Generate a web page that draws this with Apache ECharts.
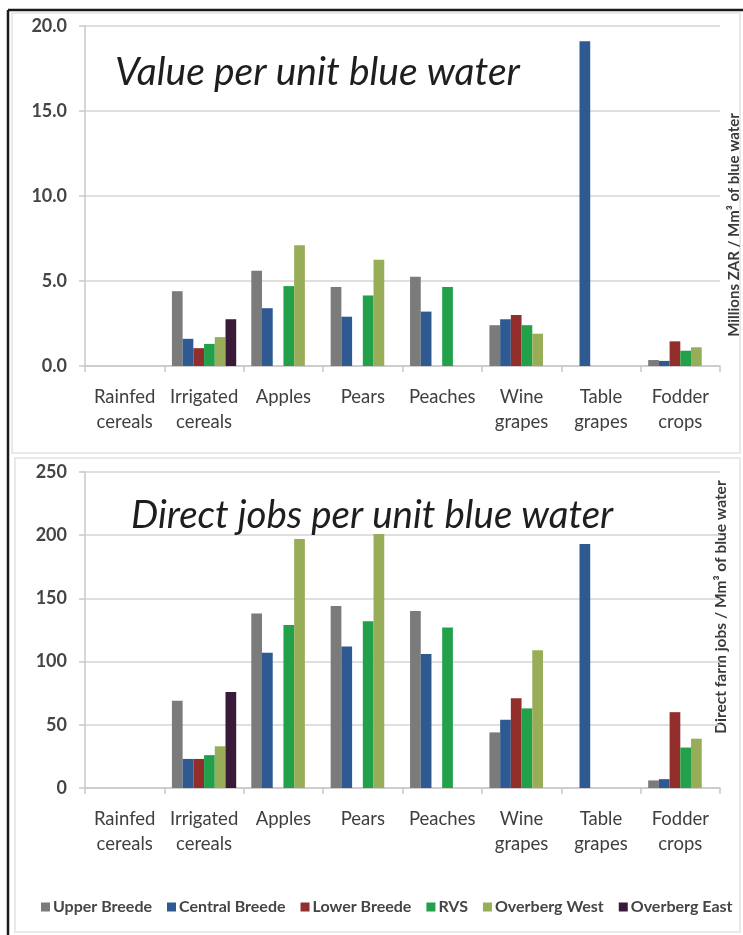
<!DOCTYPE html>
<html>
<head>
<meta charset="utf-8">
<title>Value and direct jobs per unit blue water</title>
<script src="https://cdn.jsdelivr.net/npm/echarts@6/dist/echarts.min.js"></script>
<style>
  html, body { margin: 0; padding: 0; background: #ffffff; }
  #chart { width: 743px; height: 935px; }
</style>
</head>
<body>
<div id="chart"></div>
<script>
// Crop categories (two-line axis labels)
const categories = [
  'Rainfed\ncereals', 'Irrigated\ncereals', 'Apples', 'Pears',
  'Peaches', 'Wine\ngrapes', 'Table\ngrapes', 'Fodder\ncrops'
];

// Regions (series) and their colours
const regions = ['Upper Breede', 'Central Breede', 'Lower Breede', 'RVS', 'Overberg West', 'Overberg East'];
const regionColors = ['#7b7b7b', '#2f5a91', '#922f2d', '#22a14a', '#98ad57', '#3b1a39'];

// Value per unit blue water (Millions ZAR / Mm3), one array per region
const valueUpperBreede   = [null, 4.4, 5.6, 4.65, 5.25, 2.4, null, 0.35];
const valueCentralBreede = [null, 1.6, 3.4, 2.9, 3.2, 2.75, 19.1, 0.3];
const valueLowerBreede   = [null, 1.05, null, null, null, 3.0, null, 1.45];
const valueRVS           = [null, 1.3, 4.7, 4.15, 4.65, 2.4, null, 0.9];
const valueOverbergWest  = [null, 1.7, 7.1, 6.25, null, 1.9, null, 1.1];
const valueOverbergEast  = [null, 2.75, null, null, null, null, null, null];

// Direct farm jobs per unit blue water (jobs / Mm3), one array per region
const jobsUpperBreede   = [null, 69, 138, 144, 140, 44, null, 6];
const jobsCentralBreede = [null, 23, 107, 112, 106, 54, 193, 7];
const jobsLowerBreede   = [null, 23, null, null, null, 71, null, 60];
const jobsRVS           = [null, 26, 129, 132, 127, 63, null, 32];
const jobsOverbergWest  = [null, 33, 197, 201, null, 109, null, 39];
const jobsOverbergEast  = [null, 76, null, null, null, null, null, null];

// Axis tick values
const valueTicks = [0, 5, 10, 15, 20];
const jobsTicks = [0, 50, 100, 150, 200, 250];

const valueSeries = [valueUpperBreede, valueCentralBreede, valueLowerBreede, valueRVS, valueOverbergWest, valueOverbergEast];
const jobsSeries = [jobsUpperBreede, jobsCentralBreede, jobsLowerBreede, jobsRVS, jobsOverbergWest, jobsOverbergEast];

const FONT = 'Lato, "Open Sans", sans-serif';
const TEXT_COLOR = '#3f3f3f';
const GRID_COLOR = '#d4d4d4';

function makeXAxis(gridIndex) {
  return {
    type: 'category',
    gridIndex: gridIndex,
    data: categories,
    axisLine: { show: true, lineStyle: { color: '#c8c8c8', width: 1.5 } },
    axisTick: { show: true, length: 6, lineStyle: { color: '#c8c8c8', width: 1.5 } },
    axisLabel: {
      interval: 0,
      margin: 19,
      fontFamily: FONT,
      fontSize: 18.5,
      lineHeight: 25,
      color: TEXT_COLOR
    }
  };
}

function makeYAxis(gridIndex, ticks, digits) {
  return {
    type: 'value',
    gridIndex: gridIndex,
    min: ticks[0],
    max: ticks[ticks.length - 1],
    interval: ticks[1] - ticks[0],
    axisLine: { show: true, lineStyle: { color: '#c8c8c8', width: 1.5 } },
    axisTick: { show: true, length: 6, lineStyle: { color: '#c8c8c8', width: 1.5 } },
    splitLine: { show: true, lineStyle: { color: GRID_COLOR, width: 1.5 } },
    axisLabel: {
      margin: 18,
      fontFamily: FONT,
      fontSize: 18,
      fontWeight: 'bold',
      color: '#454545',
      formatter: function (v) { return v.toFixed(digits); }
    }
  };
}

const series = [];
regions.forEach(function (name, i) {
  series.push({
    name: name,
    type: 'bar',
    xAxisIndex: 0,
    yAxisIndex: 0,
    data: valueSeries[i],
    itemStyle: { color: regionColors[i] },
    barGap: '0%',
    barCategoryGap: '19%'
  });
});
regions.forEach(function (name, i) {
  series.push({
    name: name,
    type: 'bar',
    xAxisIndex: 1,
    yAxisIndex: 1,
    data: jobsSeries[i],
    itemStyle: { color: regionColors[i] },
    barGap: '0%',
    barCategoryGap: '19%'
  });
});

const option = {
  backgroundColor: '#ffffff',
  animation: false,
  textStyle: { fontFamily: FONT },
  title: [
    {
      text: 'Value per unit blue water',
      left: 110,
      top: 48,
      textStyle: { fontFamily: FONT, fontStyle: 'italic', fontWeight: 'normal', fontSize: 39, color: '#1e1e1e' }
    },
    {
      text: 'Direct jobs per unit blue water',
      left: 126,
      top: 491,
      textStyle: { fontFamily: FONT, fontStyle: 'italic', fontWeight: 'normal', fontSize: 38.5, color: '#1e1e1e' }
    }
  ],
  legend: {
    data: regions,
    left: 36,
    top: 894,
    icon: 'rect',
    itemWidth: 9,
    itemHeight: 9,
    itemGap: 15,
    textStyle: { fontFamily: FONT, fontSize: 16, fontWeight: 'bold', color: '#454545', padding: [0, 0, 0, -2] }
  },
  grid: [
    { left: 85, right: 23, top: 26, height: 340 },
    { left: 85, right: 23, top: 472, height: 316 }
  ],
  xAxis: [makeXAxis(0), makeXAxis(1)],
  yAxis: [makeYAxis(0, valueTicks, 1), makeYAxis(1, jobsTicks, 0)],
  series: series,
  graphic: [
    // light chart-area borders
    { type: 'rect', silent: true, z: -1, shape: { x: 12, y: 13, width: 728, height: 440 },
      style: { fill: 'none', stroke: '#e2e2e2', lineWidth: 1.5 } },
    { type: 'rect', silent: true, z: -1, shape: { x: 15, y: 458, width: 725, height: 474 },
      style: { fill: 'none', stroke: '#e2e2e2', lineWidth: 1.5 } },
    // dark frame
    { type: 'line', silent: true, shape: { x1: 8, y1: 10, x2: 743, y2: 10 },
      style: { stroke: '#1a1a1a', lineWidth: 2.5 } },
    { type: 'line', silent: true, shape: { x1: 8, y1: 10, x2: 8, y2: 935 },
      style: { stroke: '#1a1a1a', lineWidth: 2.5 } },
    // y-axis names on the right
    { type: 'text', silent: true, x: 734, y: 225, rotation: Math.PI / 2,
      style: { text: 'Millions ZAR / Mm³ of blue water', textAlign: 'center', textVerticalAlign: 'middle',
               font: 'bold 15px ' + FONT, fill: '#3a3a3a' } },
    { type: 'text', silent: true, x: 721, y: 607, rotation: Math.PI / 2,
      style: { text: 'Direct farm jobs / Mm³ of blue water', textAlign: 'center', textVerticalAlign: 'middle',
               font: 'bold 15.5px ' + FONT, fill: '#3a3a3a' } }
  ]
};

const chart = echarts.init(document.getElementById('chart'), null, { renderer: 'canvas' });
chart.setOption(option);
</script>
</body>
</html>
